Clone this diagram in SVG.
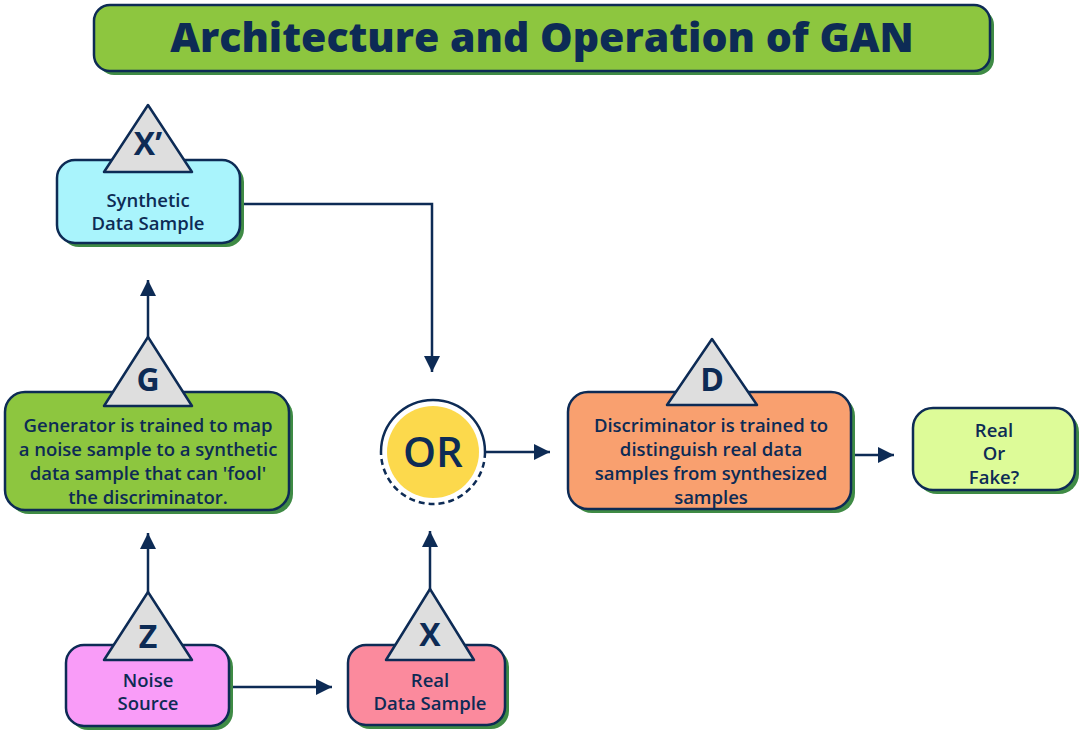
<svg xmlns="http://www.w3.org/2000/svg" width="1084" height="737" viewBox="0 0 1084 737">
<defs>
<style>
.box{stroke:#0d2b55;stroke-width:2.5}
.sh{fill:#3f8b45}
.tri{fill:#dedede;stroke:#0d2b55;stroke-width:2.5;stroke-linejoin:round}
.lbl{font-family:"Open Sans","Liberation Sans",sans-serif;font-weight:600;fill:#0d2b55;text-anchor:middle}
.big{font-family:"Open Sans","Liberation Sans",sans-serif;font-weight:700;fill:#0d2b55;text-anchor:middle;font-size:32px}
.ln{fill:none;stroke:#0d2b55;stroke-width:2.5}
</style>
<marker id="ah" viewBox="0 0 10 10" refX="10" refY="5" markerWidth="6.5" markerHeight="6.5" orient="auto" markerUnits="strokeWidth">
<path d="M0,0 L10,5 L0,10 z" fill="#0d2b55"/>
</marker>
</defs>
<rect width="1084" height="737" fill="#ffffff"/>

<g id="title">
<rect x="98" y="9" width="896" height="66" rx="16" class="sh"/>
<rect x="94" y="5" width="896" height="66" rx="16" fill="#8dc63f" class="box"/>
<text x="542" y="52" class="lbl" style="font-weight:800;font-size:41px">Architecture and Operation of GAN</text>
</g>

<g id="connectors">
<path d="M148,340 V280" class="ln" marker-end="url(#ah)"/>
<path d="M148,592 V533" class="ln" marker-end="url(#ah)"/>
<path d="M232,687 H332" class="ln" marker-end="url(#ah)"/>
<path d="M430,590 V531" class="ln" marker-end="url(#ah)"/>
<path d="M240,204 H432 V372" class="ln" marker-end="url(#ah)"/>
<path d="M485,452 H550" class="ln" marker-end="url(#ah)"/>
<path d="M855,455 H894" class="ln" marker-end="url(#ah)"/>
</g>

<g id="synthetic">
<rect x="61" y="164" width="183" height="83" rx="18" class="sh"/>
<rect x="57" y="160" width="183" height="83" rx="18" fill="#a9f4fc" class="box"/>
<path d="M148,105 L192,172 L104,172 Z" class="tri"/>
<text x="148" y="155" class="big">X’</text>
<text x="148" y="207" class="lbl" font-size="18.5">Synthetic</text>
<text x="148" y="230" class="lbl" font-size="18.5">Data Sample</text>
</g>

<g id="generator">
<rect x="9" y="396" width="284" height="118" rx="20" class="sh"/>
<rect x="5" y="392" width="284" height="118" rx="20" fill="#8dc63f" class="box"/>
<path d="M148,337 L192,406 L104,406 Z" class="tri"/>
<text x="148" y="391" class="big">G</text>
<text x="148" y="432" class="lbl" font-size="18.5">Generator is trained to map</text>
<text x="148" y="456" class="lbl" font-size="18.5">a noise sample to a synthetic</text>
<text x="148" y="480" class="lbl" font-size="18.5">data sample that can 'fool'</text>
<text x="148" y="504" class="lbl" font-size="18.5">the discriminator.</text>
</g>

<g id="noise">
<rect x="70" y="649" width="163" height="81" rx="18" class="sh"/>
<rect x="66" y="645" width="163" height="81" rx="18" fill="#f99cf8" class="box"/>
<path d="M148,592 L192,660 L104,660 Z" class="tri"/>
<text x="148" y="648" class="big">Z</text>
<text x="148" y="687" class="lbl" font-size="18.5">Noise</text>
<text x="148" y="710" class="lbl" font-size="18.5">Source</text>
</g>

<g id="real">
<rect x="352" y="649" width="157" height="80" rx="18" class="sh"/>
<rect x="348" y="645" width="157" height="80" rx="18" fill="#fb8a9d" class="box"/>
<path d="M430,589 L474,660 L386,660 Z" class="tri"/>
<text x="430" y="646" class="big">X</text>
<text x="430" y="687" class="lbl" font-size="18.5">Real</text>
<text x="430" y="710" class="lbl" font-size="18.5">Data Sample</text>
</g>

<g id="or">
<circle cx="433" cy="452" r="46" fill="#fcd94c"/>
<path d="M381,452 A52,52 0 0 1 485,452" class="ln"/>
<path d="M485,452 A52,52 0 0 1 381,452" class="ln" stroke-width="1.8" stroke-dasharray="6,4"/>
<text x="433" y="467" class="lbl" style="font-size:42px">OR</text>
</g>

<g id="discriminator">
<rect x="572" y="396" width="283" height="117" rx="20" class="sh"/>
<rect x="568" y="392" width="283" height="117" rx="20" fill="#f9a06f" class="box"/>
<path d="M712,339 L757,405 L667,405 Z" class="tri"/>
<text x="712" y="391" class="big">D</text>
<text x="711" y="432" class="lbl" font-size="18.5">Discriminator is trained to</text>
<text x="711" y="456" class="lbl" font-size="18.5">distinguish real data</text>
<text x="711" y="480" class="lbl" font-size="18.5">samples from synthesized</text>
<text x="711" y="504" class="lbl" font-size="18.5">samples</text>
</g>

<g id="realorfake">
<rect x="917" y="412" width="162" height="82" rx="20" class="sh"/>
<rect x="913" y="408" width="162" height="82" rx="20" fill="#ddfb98" class="box"/>
<text x="994" y="437" class="lbl" font-size="18.5">Real</text>
<text x="994" y="460" class="lbl" font-size="18.5">Or</text>
<text x="994" y="484" class="lbl" font-size="18.5">Fake?</text>
</g>
</svg>
